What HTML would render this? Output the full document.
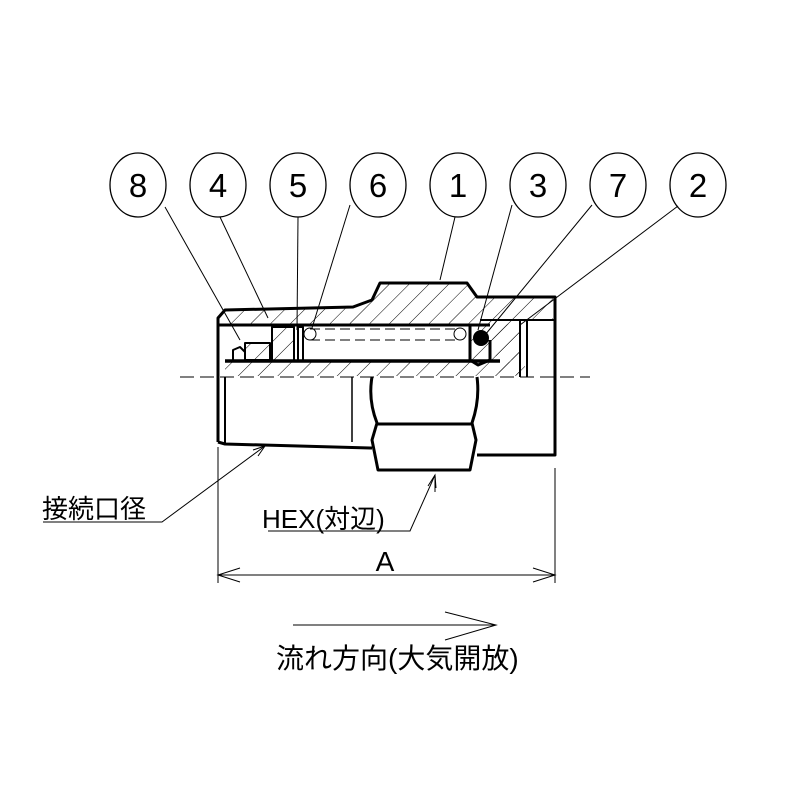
<!DOCTYPE html>
<html><head><meta charset="utf-8"><style>body{margin:0;background:#fff}svg{display:block}</style></head>
<body>
<svg width="800" height="800" viewBox="0 0 800 800" xmlns="http://www.w3.org/2000/svg" font-family="Liberation Sans, Noto Sans CJK JP, sans-serif">
<defs>
<pattern id="h" width="14" height="14" patternUnits="userSpaceOnUse" patternTransform="rotate(45)">
<line x1="0" y1="0" x2="0" y2="14" stroke="#000" stroke-width="1"/></pattern>
</defs>
<g fill="none" stroke="#000" stroke-width="1.3">
<ellipse cx="138" cy="185" rx="28" ry="32"/><ellipse cx="218" cy="185" rx="28" ry="32"/>
<ellipse cx="298" cy="185" rx="28" ry="32"/><ellipse cx="378" cy="185" rx="28" ry="32"/>
<ellipse cx="458" cy="185" rx="28" ry="32"/><ellipse cx="538" cy="185" rx="28" ry="32"/>
<ellipse cx="618" cy="185" rx="28" ry="32"/><ellipse cx="698" cy="185" rx="28" ry="32"/>
</g>
<g font-size="33" text-anchor="middle">
<text x="138" y="197">8</text><text x="218" y="197">4</text><text x="298" y="197">5</text><text x="378" y="197">6</text>
<text x="458" y="197">1</text><text x="538" y="197">3</text><text x="618" y="197">7</text><text x="698" y="197">2</text>
</g>
<g stroke="#000" stroke-width="1">
<line x1="165" y1="207" x2="240" y2="340"/><line x1="220" y1="217" x2="268" y2="318"/>
<line x1="298" y1="217" x2="297" y2="330"/><line x1="350" y1="205" x2="312" y2="328"/>
<line x1="455" y1="217" x2="440" y2="280"/><line x1="512" y1="205" x2="478" y2="330"/>
<line x1="592" y1="205" x2="485" y2="335"/><line x1="678" y1="206" x2="520" y2="325"/>
</g>
<g fill="url(#h)" stroke="none">
<polygon points="222,318 225,310 353,307 372,300 380,283 467,283 477,297 553,297 553,320 520,320 520,360 470,360 470,325 222,325"/>
<rect x="225" y="362" width="300" height="14"/>
<rect x="245" y="343" width="25" height="18"/><rect x="272" y="327" width="22" height="34"/>
<polygon points="490,330 520,320 520,375 500,375"/>
</g>
<g fill="none" stroke="#000" stroke-width="3" stroke-linejoin="round">
<polyline points="218,442 218,318 225,310 353,307 372,300 380,283 467,283 477,297 555,297 555,455 477,455"/>
<line x1="218" y1="325" x2="490" y2="325"/>
<line x1="225" y1="361" x2="500" y2="361" stroke-width="3.5"/>
<rect x="272" y="327" width="22" height="34" stroke-width="2"/>
<rect x="298" y="327" width="5" height="34" stroke-width="2"/>
<polyline points="233,360 233,350 240,347 245,352 245,360" stroke-width="2"/>
<rect x="245" y="343" width="25" height="17" stroke-width="2"/>
<polyline points="218,442 225,444 370,448 372,448"/>
<line x1="225" y1="377" x2="225" y2="444" stroke-width="2"/>
<line x1="352" y1="377" x2="352" y2="442" stroke-width="1.5"/>
<path d="M372,377 Q368,400 377,423 L372,440 L378,470 L470,470 L476,440 L472,423 Q480,400 477,377"/>
<line x1="377" y1="424" x2="472" y2="424"/>
<path d="M470,325 L470,360 L478,365 L490,360 L490,340"/>
<line x1="520" y1="320" x2="520" y2="377" stroke-width="2"/>
<line x1="527" y1="320" x2="527" y2="377" stroke-width="2"/>
<line x1="480" y1="320" x2="555" y2="320" stroke-width="2"/>
</g>
<circle cx="481" cy="338" r="8" fill="#000"/>
<g fill="none" stroke="#000" stroke-width="1">
<circle cx="310" cy="334" r="6"/><circle cx="460" cy="334" r="6"/>
<line x1="310" y1="329" x2="460" y2="329" stroke-dasharray="10,5"/>
<line x1="310" y1="340" x2="460" y2="340" stroke-dasharray="10,5"/>
<line x1="180" y1="377" x2="590" y2="377" stroke-dasharray="14,6"/>
<line x1="218" y1="447" x2="218" y2="583"/><line x1="555" y1="468" x2="555" y2="583"/>
<line x1="218" y1="575" x2="555" y2="575"/>
<polyline points="240,568 218,575 240,582"/><polyline points="533,568 555,575 533,582"/>
<polyline points="43,522 162,522 265,446"/><polyline points="253,450 265,446 258,456"/>
<polyline points="268,531 410,531 435,475"/><polyline points="428,486 435,475 436,488"/>
<line x1="435" y1="475" x2="435" y2="492"/>
<line x1="293" y1="625" x2="496" y2="625"/><polyline points="445,612 496,625 445,640"/>
</g>
<text x="385" y="571" font-size="28" text-anchor="middle">A</text>
<text x="42" y="518" font-size="26">接続口径</text>
<text x="262" y="528" font-size="26">HEX(対辺)</text>
<text x="276" y="668" font-size="28">流れ方向(大気開放)</text>
</svg>
</body></html>
